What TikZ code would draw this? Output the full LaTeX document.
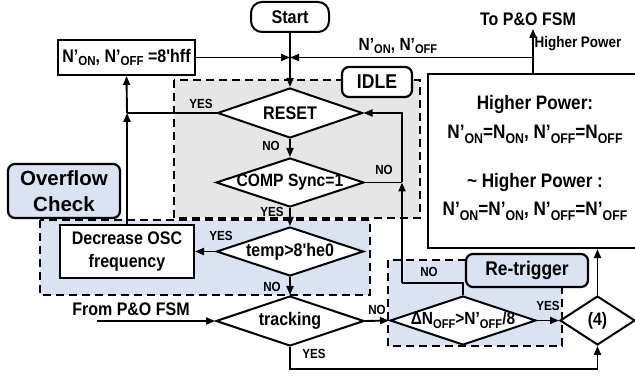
\documentclass[tikz,border=0pt]{standalone}
\usepackage{fontspec}
\newfontfamily\lsans{Liberation Sans}[FakeStretch=0.88]
\newfontfamily\lsanswide{Liberation Sans}
\usetikzlibrary{shapes.geometric,arrows.meta}
\definecolor{idlegray}{RGB}{230,230,230}
\definecolor{ovblue}{RGB}{218,227,242}
% lowered small subscript used in N'ON, N'OFF
\newcommand\sbs[1]{\raisebox{-0.4ex}{\scalebox{0.72}{#1}}}
% zero-width text so a diamond keeps its given size
\newcommand\dt[1]{\makebox[0pt]{#1}}
\begin{document}
\begin{tikzpicture}[x=1pt,y=-1pt,
  fs/.style={font=\lsans\bfseries\fontsize{#1}{#1}\selectfont},
  flow/.style={line width=1.9pt},
  arr/.style={flow,-{Triangle[length=9pt,width=7pt]}},
  dec/.style={diamond,draw,line width=2pt,fill=white,inner sep=0pt},
  box/.style={rectangle,draw,line width=2pt,fill=white,inner sep=0pt},
  term/.style={rectangle,draw,line width=2pt,fill=white,rounded corners=11pt,inner sep=0pt},
  tag/.style={rectangle,draw,line width=2.2pt,rounded corners=7pt,inner sep=0pt},
  region/.style={dash pattern=on 8pt off 5pt,line width=2.5pt},
  lbl/.style={fs=13.2,inner sep=0pt}]
\clip (0,0) rectangle (635,379);

% shaded regions
\path[fill=idlegray] (174,80) rectangle (420,218);
\path[fill=ovblue] (40,220) rectangle (370,295);
\path[fill=ovblue] (388,260) rectangle (562,346);
\draw[region] (174,80) rectangle (420,218);
\draw[region] (40,220) rectangle (370,295);
\draw[region] (388,260) rectangle (562,346);

% region tags
\node[tag,fill=white,fs=20,minimum width=70pt,minimum height=30pt] (idle) at (377,82) {IDLE};
\node[tag,fill=ovblue,font=\lsanswide\bfseries\fontsize{20.5}{20.5}\selectfont,minimum width=112pt,minimum height=54pt,align=center] (ovf) at (64,191) {Overflow\\[5pt]Check};
\node[tag,fill=ovblue,fs=19.8,minimum width=122pt,minimum height=33pt] (retr) at (527,270.5) {Re-trigger};

% boxes
\node[term,fs=18.4,minimum width=78pt,minimum height=30pt] (start) at (290,17) {Start};
\node[box,fs=18.2,minimum width=137pt,minimum height=35pt] (hff) at (126.5,57.5) {N’\sbs{ON}, N’\sbs{OFF} =8'hff};
\node[box,fs=18.2,minimum width=134pt,minimum height=53pt,align=center] (decr) at (127,251.5) {Decrease OSC\\[5pt]frequency};
\node[box,line width=2.2pt,minimum width=217pt,minimum height=174pt] (hp) at (536.5,161) {};
\node[fs=19.5,anchor=base] (hp1) at (535,110) {Higher Power:};
\node[fs=19.5,anchor=base] (hp2) at (535,139) {N’\sbs{ON}=N\sbs{ON}, N’\sbs{OFF}=N\sbs{OFF}};
\node[fs=19.5,anchor=base] (hp3) at (535,188) {\textasciitilde\ Higher Power :};
\node[fs=19.5,anchor=base] (hp4) at (535,216) {N’\sbs{ON}=N’\sbs{ON}, N’\sbs{OFF}=N’\sbs{OFF}};

% decisions
\node[dec,fs=18.3,minimum width=145pt,minimum height=50pt] (reset) at (290,113) {\dt{RESET}};
\node[dec,fs=17.8,minimum width=148pt,minimum height=49pt] (comp) at (290,182.5) {\dt{COMP Sync=1}};
\node[dec,fs=18.2,minimum width=147pt,minimum height=49pt] (temp) at (290,251.5) {\dt{temp>8'he0}};
\node[dec,fs=18.2,minimum width=148pt,minimum height=50pt] (track) at (290,321) {\dt{tracking}};
\node[dec,fs=17.6,minimum width=146pt,minimum height=49pt] (dn) at (463,320.5) {\dt{ΔN\sbs{OFF}>N’\sbs{OFF}/8}};
\node[dec,fs=18,minimum width=75pt,minimum height=49pt] (four) at (597.5,320.5) {\dt{(4)}};

% free texts
\node[fs=18.2] (topo) at (528,19) {To P\&O FSM};
\node[fs=18.2] (frpo) at (131,309) {From P\&O FSM};
\node[fs=15.3] (hpl) at (578,44) {Higher Power};
\node[fs=17.6] (nlbl) at (398,46) {N’\sbs{ON}, N’\sbs{OFF}};

% junction points
\coordinate (J) at (290,57.5);
\coordinate (pj) at (533,57.5);
\coordinate (pt) at (533,74);
\coordinate (ry) at (127,113);
\coordinate (cj) at (402,182.5);
\coordinate (rt) at (402,283);
\coordinate (fp) at (97,321);

% connectors
\draw[arr] (start) -- (reset);
\draw[arr] (hff) -- (J);
\draw[flow] (pt) -- (pj);
\draw[arr] (pj) -- (J);
\draw[arr] (pj) -- (pj |- topo.south);
\draw[flow] (reset.west) -- (ry);
\draw[arr] (decr.north) -- (ry);
\draw[arr] (ry) -- (hff.south);
\draw[arr] (reset) -- (comp);
\draw[flow] (comp.east) -- (cj);
\draw[flow] (dn.north) |- (rt);
\draw[arr] (rt) -- (cj);
\draw[arr] (cj) |- (reset.east);
\draw[arr] (comp) -- (temp);
\draw[arr] (temp.west) -- (decr.east);
\draw[arr] (temp) -- (track);
\draw[arr] (fp) -- (track.west);
\draw[arr] (track.east) -- (dn.west);
\draw[arr] (track.south) -- ++(0,22) -| (four.south);
\draw[arr] (dn.east) -- (four.west);
\draw[arr] (four.north) -- (four.north |- hp.south);

% branch labels
\node[lbl] (l1) at (201,104) {YES};
\node[lbl] (l2) at (271,146) {NO};
\node[lbl] (l3) at (384,170) {NO};
\node[lbl] (l4) at (272,212) {YES};
\node[lbl] (l5) at (221,236) {YES};
\node[lbl] (l6) at (272,287) {NO};
\node[lbl] (l7) at (377,310) {NO};
\node[lbl] (l8) at (314,354) {YES};
\node[lbl] (l9) at (429,272) {NO};
\node[lbl] (l10) at (548,306) {YES};
\end{tikzpicture}
\end{document}
